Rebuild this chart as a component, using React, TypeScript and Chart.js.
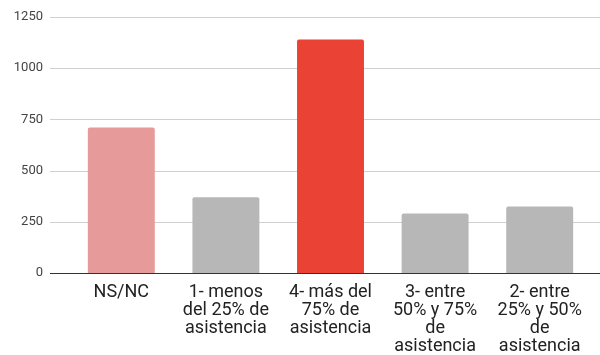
import React, { useEffect, useRef } from "react";
import { Chart, registerables } from "chart.js";

Chart.register(...registerables);

const categories: string[][] = [
  ["NS/NC"],
  ["1- menos", "del 25% de", "asistencia"],
  ["4- más del", "75% de", "asistencia"],
  ["3- entre", "50% y 75%", "de", "asistencia"],
  ["2- entre", "25% y 50%", "de", "asistencia"],
];
const values: number[] = [710, 370, 1140, 290, 325];
const barColors: string[] = ["#e69a99", "#b7b7b7", "#ea4335", "#b7b7b7", "#b7b7b7"];
const yTicks: number[] = [0, 250, 500, 750, 1000, 1250];

const gridPlugin = {
  id: "extendedGrid",
  beforeDatasetsDraw(chart: any) {
    const ctx = chart.ctx;
    const y = chart.scales.y;
    ctx.save();
    for (const t of yTicks) {
      const py = Math.round(y.getPixelForValue(t)) + 0.5;
      ctx.beginPath();
      ctx.strokeStyle = t === 0 ? "#333333" : "#d0d0d0";
      ctx.lineWidth = 1;
      ctx.moveTo(50, py);
      ctx.lineTo(chart.width, py);
      ctx.stroke();
    }
    ctx.restore();
  },
};

export default function App() {
  const ref = useRef<HTMLCanvasElement | null>(null);
  useEffect(() => {
    if (!ref.current) return;
    const chart = new Chart(ref.current, {
      type: "bar",
      data: {
        labels: categories,
        datasets: [
          {
            data: values,
            backgroundColor: barColors,
            borderRadius: 2,
            borderSkipped: "bottom",
            barPercentage: 0.64,
            categoryPercentage: 1,
          },
        ],
      },
      options: {
        animation: false,
        responsive: false,
        maintainAspectRatio: false,
        layout: { padding: { top: 17, right: 8, bottom: 0, left: 0 } },
        plugins: { legend: { display: false }, tooltip: { enabled: false } },
        scales: {
          x: {
            grid: { display: false, drawTicks: false },
            border: { display: false },
            afterFit: (scale: any) => {
              scale.height = 82;
              scale.paddingLeft = 0;
              scale.paddingRight = 0;
            },
            ticks: {
              color: "#222222",
              font: { family: "Roboto", size: 18, lineHeight: 1.0 },
              padding: 10,
              maxRotation: 0,
              autoSkip: false,
            },
          },
          y: {
            min: 0,
            max: 1250,
            grid: { display: false, drawTicks: false },
            border: { display: false },
            afterFit: (scale: any) => {
              scale.width = 69;
              scale.paddingTop = 0;
              scale.paddingBottom = 0;
            },
            ticks: {
              stepSize: 250,
              color: "#444444",
              font: { family: "Roboto", size: 13 },
              padding: 26,
              callback: (v: any) => String(v),
            },
          },
        },
      },
      plugins: [gridPlugin],
    });
    return () => chart.destroy();
  }, []);
  return (
    <div style={{ position: "fixed", left: 0, top: 0, width: 600, height: 355, background: "#fff" }}>
      <canvas ref={ref} width={600} height={355} style={{ width: 600, height: 355 }} />
    </div>
  );
}
